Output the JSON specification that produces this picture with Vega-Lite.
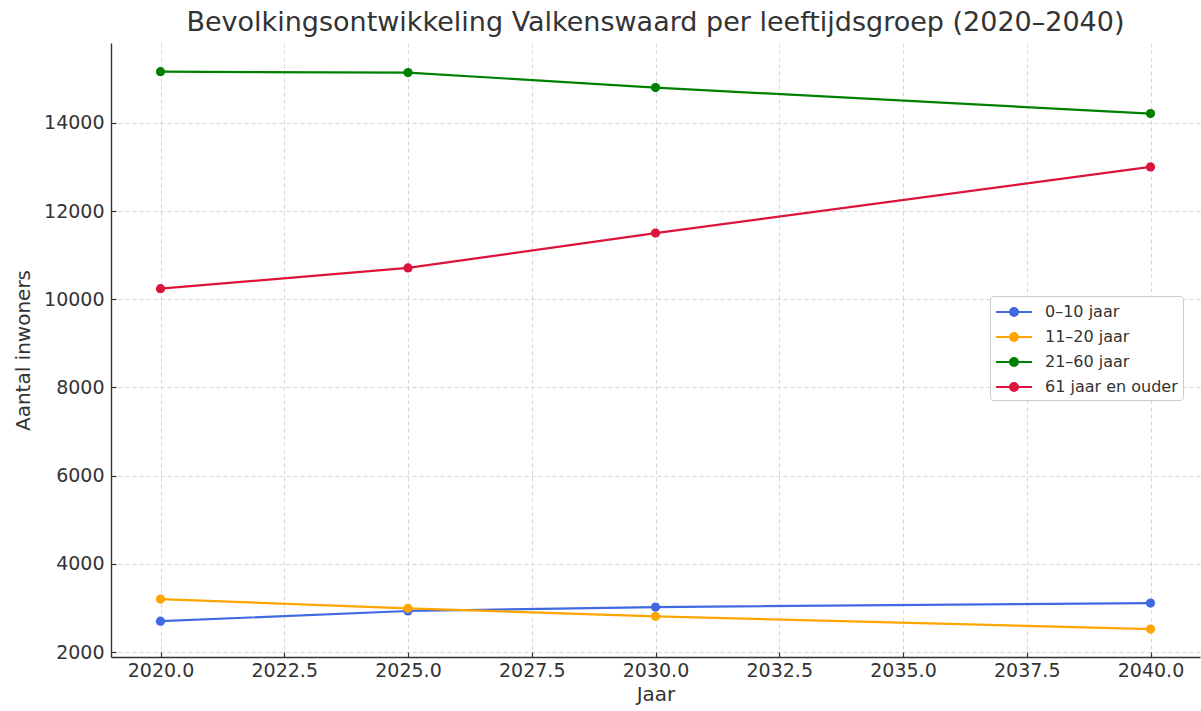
{
  "$schema": "https://vega.github.io/schema/vega-lite/v6.json",
  "width": 1089,
  "height": 614,
  "autosize": {"type": "none"},
  "padding": {"left": 111, "top": 43, "right": 1, "bottom": 54},
  "background": "white",
  "title": {
    "text": "Bevolkingsontwikkeling Valkenswaard per leeftijdsgroep (2020–2040)",
    "font": "DejaVu Sans",
    "fontSize": 27,
    "fontWeight": "normal",
    "color": "#333333",
    "anchor": "middle",
    "offset": 6
  },
  "config": {
    "view": {"stroke": null},
    "font": "DejaVu Sans",
    "axis": {
      "labelFont": "DejaVu Sans",
      "titleFont": "DejaVu Sans",
      "labelFontSize": 19,
      "titleFontSize": 20,
      "titleFontWeight": "normal",
      "labelColor": "#333333",
      "titleColor": "#333333",
      "domainColor": "#333333",
      "domainWidth": 1.4,
      "tickColor": "#333333",
      "tickSize": -5,
      "tickWidth": 1.2,
      "gridColor": "#cccccc",
      "gridDash": [4, 3],
      "gridWidth": 0.8
    }
  },
  "data": {
    "values": [
      {"jaar": 2020, "groep": "0–10 jaar", "inwoners": 2700},
      {"jaar": 2025, "groep": "0–10 jaar", "inwoners": 2930},
      {"jaar": 2030, "groep": "0–10 jaar", "inwoners": 3020},
      {"jaar": 2040, "groep": "0–10 jaar", "inwoners": 3110},
      {"jaar": 2020, "groep": "11–20 jaar", "inwoners": 3200},
      {"jaar": 2025, "groep": "11–20 jaar", "inwoners": 2990},
      {"jaar": 2030, "groep": "11–20 jaar", "inwoners": 2810},
      {"jaar": 2040, "groep": "11–20 jaar", "inwoners": 2520},
      {"jaar": 2020, "groep": "21–60 jaar", "inwoners": 15160},
      {"jaar": 2025, "groep": "21–60 jaar", "inwoners": 15140},
      {"jaar": 2030, "groep": "21–60 jaar", "inwoners": 14800},
      {"jaar": 2040, "groep": "21–60 jaar", "inwoners": 14210},
      {"jaar": 2020, "groep": "61 jaar en ouder", "inwoners": 10240},
      {"jaar": 2025, "groep": "61 jaar en ouder", "inwoners": 10710},
      {"jaar": 2030, "groep": "61 jaar en ouder", "inwoners": 11500},
      {"jaar": 2040, "groep": "61 jaar en ouder", "inwoners": 13000}
    ]
  },
  "encoding": {
    "x": {
      "field": "jaar",
      "type": "quantitative",
      "title": "Jaar",
      "scale": {"domain": [2019, 2041], "nice": false, "zero": false},
      "axis": {
        "values": [2020, 2022.5, 2025, 2027.5, 2030, 2032.5, 2035, 2037.5, 2040],
        "format": ".1f",
        "labelPadding": 9,
        "titlePadding": 4
      }
    },
    "y": {
      "field": "inwoners",
      "type": "quantitative",
      "title": "Aantal inwoners",
      "scale": {"domain": [1887, 15811], "nice": false, "zero": false},
      "axis": {
        "values": [2000, 4000, 6000, 8000, 10000, 12000, 14000],
        "format": "d",
        "labelPadding": 12,
        "titlePadding": 10
      }
    },
    "color": {
      "field": "groep",
      "type": "nominal",
      "title": null,
      "scale": {
        "domain": ["0–10 jaar", "11–20 jaar", "21–60 jaar", "61 jaar en ouder"],
        "range": ["#4169e1", "#ffa500", "#008000", "#dc143c"]
      },
      "legend": {
        "orient": "none",
        "legendX": 879,
        "legendY": 253,
        "symbolType": "M-1.8,0L1.8,0M-0.4,0a0.4,0.4 0 1,0 0.8,0a0.4,0.4 0 1,0 -0.8,0Z",
        "symbolSize": 400,
        "symbolStrokeWidth": 2,
        "symbolOffset": 8,
        "labelFontSize": 16,
        "labelColor": "#333333",
        "labelFont": "DejaVu Sans",
        "labelOffset": 20,
        "rowPadding": 6,
        "padding": 5,
        "fillColor": "white",
        "strokeColor": "#cccccc",
        "cornerRadius": 3
      }
    }
  },
  "layer": [
    {"mark": {"type": "line", "strokeWidth": 2.2}},
    {"mark": {"type": "point", "filled": true, "size": 85, "opacity": 1}}
  ]
}
